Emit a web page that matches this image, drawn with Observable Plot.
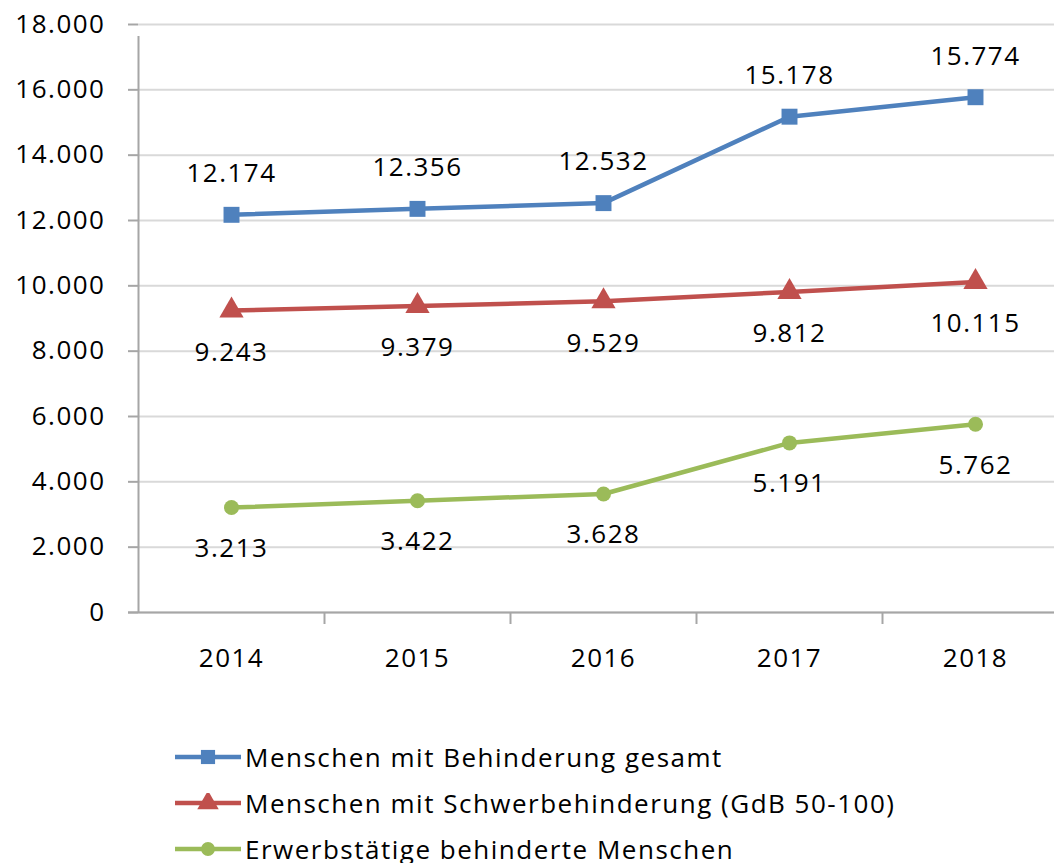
<!DOCTYPE html>
<html>
<head>
<meta charset="utf-8">
<script src="https://cdn.jsdelivr.net/npm/d3@7"></script>
<script src="https://cdn.jsdelivr.net/npm/@observablehq/plot@0.6"></script>
<style>
  body { margin: 0; background: #fff; font-family: "Open Sans", sans-serif; }
  #legend { padding-top: 34px; padding-left: 175px; }
  .row { display: flex; align-items: center; height: 46px; font-size: 26px; color: #000; letter-spacing: 1.5px; }
  .row svg { margin-right: 4px; }
</style>
</head>
<body>
<div id="chart"></div>
<div id="legend"></div>
<script>
const years = [2014, 2015, 2016, 2017, 2018];
const gesamt = [12174, 12356, 12532, 15178, 15774];
const schwer = [9243, 9379, 9529, 9812, 10115];
const erwerb = [3213, 3422, 3628, 5191, 5762];
const seriesNames = [
  "Menschen mit Behinderung gesamt",
  "Menschen mit Schwerbehinderung (GdB 50-100)",
  "Erwerbstätige behinderte Menschen"
];
const seriesValues = [gesamt, schwer, erwerb];
const colors = ["#4F81BD", "#C0504D", "#9BBB59"];
const symbols = ["square", "triangle", "circle"];
const labelOffsets = [-41, 42, 41];
const yTicks = [0, 2000, 4000, 6000, 8000, 10000, 12000, 14000, 16000, 18000];
const boundaries = [2013.5, 2014.5, 2015.5, 2016.5, 2017.5, 2018.5];

const fmt = d => d3.format(",")(d).replace(/,/g, ".");

const data = seriesNames.flatMap((s, i) =>
  years.map((y, j) => ({series: s, idx: i, year: y, value: seriesValues[i][j]})));

const marks = [
  Plot.gridY(yTicks, {stroke: "#d9d9d9", strokeOpacity: 1, strokeWidth: 2}),
  Plot.ruleY([0], {stroke: "#a6a6a6", strokeWidth: 2, insetLeft: -10}),
  Plot.ruleX([boundaries[0]], {y1: 0, y2: 18000, stroke: "#a6a6a6", strokeWidth: 2, insetBottom: -12}),
  Plot.axisY({ticks: yTicks, tickSize: 10, tickPadding: 23, tickFormat: fmt, stroke: "#a6a6a6", fill: "#000", strokeWidth: 2, fontSize: 26, label: null}),
  Plot.axisX({ticks: boundaries.slice(1, -1), tickSize: 12, tickFormat: () => "", stroke: "#a6a6a6", strokeWidth: 2, label: null}),
  Plot.axisX({ticks: years, tickSize: 0, tickPadding: 36, tickFormat: d => String(d), fill: "#000", fontSize: 26, label: null})
];
seriesNames.forEach((s, i) => {
  const d = data.filter(r => r.idx === i);
  marks.push(Plot.line(d, {x: "year", y: "value", stroke: colors[i], strokeWidth: 4.5}));
  marks.push(Plot.dot(d, {x: "year", y: "value", fill: colors[i], stroke: null, symbol: symbols[i], r: symbols[i] === "circle" ? 7.5 : 9}));
  marks.push(Plot.text(d, {x: "year", y: "value", text: r => fmt(r.value), dy: labelOffsets[i], fill: "#000", fontSize: 26}));
});

const chart = Plot.plot({
  width: 1054,
  height: 700,
  marginLeft: 138,
  marginRight: 0,
  marginTop: 24,
  marginBottom: 88,
  x: {type: "linear", domain: [2013.5, 2018.5], range: [138, 1068], label: null},
  y: {domain: [0, 18000], label: null},
  style: {fontFamily: "'Open Sans', sans-serif", fontSize: "26px", color: "#000", background: "#fff", letterSpacing: "1.5px", overflow: "visible"},
  marks
});
document.getElementById("chart").appendChild(chart);

const legend = document.getElementById("legend");
seriesNames.forEach((s, i) => {
  const row = document.createElement("div");
  row.className = "row";
  const sym = d3.symbol(
    i === 0 ? d3.symbolSquare : i === 1 ? d3.symbolTriangle : d3.symbolCircle,
    i === 2 ? 150 : 200)();
  row.innerHTML = `<svg width="66" height="20"><line x1="0" y1="10" x2="66" y2="10" stroke="${colors[i]}" stroke-width="4.5" stroke-linecap="round"/><path d="${sym}" transform="translate(33,10)" fill="${colors[i]}"/></svg><span>${s}</span>`;
  legend.appendChild(row);
});
</script>
</body>
</html>
